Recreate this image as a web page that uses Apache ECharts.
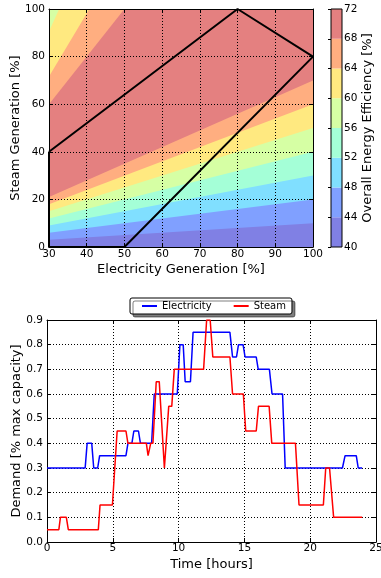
<!DOCTYPE html>
<html>
<head>
<meta charset="utf-8">
<title>CHP efficiency and demand</title>
<script src="https://cdn.jsdelivr.net/npm/echarts@6/dist/echarts.min.js"></script>
<style>body { margin: 0; background: #fff; }</style>
</head>
<body>
<div id="main" style="width:381px;height:578px;"></div>
<script>
// contourf levels of the efficiency map and the colour of each band (jet, alpha 0.5 on white)
var levels = [40, 44, 48, 52, 56, 60, 64, 68, 72];
var bandColors = ['#8080e4', '#80a0ff', '#80dfff', '#a4ffd7', '#d6ffa4', '#ffe980', '#ffae80', '#e48080'];

// contour lines: rising side (steam at E=30 and at E=100)
var risingLevels = [68, 64, 60, 56, 52, 48, 44];
var risingS30 = [21, 18, 15, 12, 9, 6, 3];
var risingS100 = [70, 60, 50, 40, 30, 20, 10];
// falling side, top-left corner (steam at E=30, electricity at S=100)
var fallingLevels = [68, 64, 60];
var fallingS30 = [60, 71.6, 90.5];
var fallingE100 = [50, 40.7, 32.7];

// feasible operating region
var regionE = [30, 80, 100, 50, 30, 30];
var regionS = [40, 100, 80, 0, 0, 40];

// demand profiles (corner points of the curves)
var elecTime = [0, 2.9, 3.05, 3.4, 3.55, 3.85, 4.0, 6.0, 6.15, 6.45, 6.6, 6.95, 7.1, 7.95, 8.15, 9.9, 10.1, 10.35, 10.5,
  10.9, 11.1, 13.9, 14.1, 14.4, 14.55, 14.9, 15.05, 15.9, 16.05, 16.9, 17.1, 17.9, 18.1, 22.45, 22.65, 23.5, 23.65, 23.95];
var elecDemand = [0.3, 0.3, 0.4, 0.4, 0.3, 0.3, 0.35, 0.35, 0.4, 0.4, 0.45, 0.45, 0.4, 0.4, 0.6, 0.6, 0.8, 0.8, 0.65,
  0.65, 0.85, 0.85, 0.75, 0.75, 0.8, 0.8, 0.75, 0.75, 0.7, 0.7, 0.6, 0.6, 0.3, 0.3, 0.35, 0.35, 0.3, 0.3];
var steamTime = [0, 0.9, 1.02, 1.47, 1.62, 3.9, 4.03, 4.97, 5.33, 6.0, 6.15, 7.55, 7.68, 7.74, 7.88, 8.05, 8.3, 8.53, 8.92,
  9.25, 9.48, 9.67, 11.9, 12.13, 12.4, 12.6, 13.9, 14.1, 14.92, 15.1, 15.9, 16.07, 16.88, 17.08, 18.88, 19.15, 21.0,
  21.18, 21.47, 21.78, 23.95];
var steamDemand = [0.05, 0.05, 0.1, 0.1, 0.05, 0.05, 0.15, 0.15, 0.45, 0.45, 0.4, 0.4, 0.35, 0.35, 0.4, 0.4, 0.65, 0.65, 0.3,
  0.55, 0.55, 0.7, 0.7, 0.9, 0.9, 0.75, 0.75, 0.6, 0.6, 0.45, 0.45, 0.55, 0.55, 0.4, 0.4, 0.15, 0.15, 0.3, 0.3,
  0.1, 0.1];

function zip(a, b) {
  return a.map(function (v, i) { return [v, b[i]]; });
}

// band polygons, painted on top of each other
var polys = [{ pts: [[30, 0], [100, 0], [100, 100], [30, 100]], band: 7 }];
risingLevels.forEach(function (lv, i) {
  polys.push({ pts: [[30, 0], [30, risingS30[i]], [100, risingS100[i]], [100, 0]], band: levels.indexOf(lv) - 1 });
});
fallingLevels.forEach(function (lv, i) {
  polys.push({ pts: [[30, fallingS30[i]], [fallingE100[i], 100], [30, 100]], band: levels.indexOf(lv) - 1 });
});

var font = 'DejaVu Sans';
var dotted = { show: true, lineStyle: { color: '#000', width: 1, type: [1, 2] } };
var tick = { show: true, inside: true, length: 4, lineStyle: { color: '#000' } };
var line = { show: true, onZero: false, lineStyle: { color: '#000', width: 1 } };
var lbl = { color: '#000', fontSize: 10.5, fontFamily: font };
var nameStyle = { color: '#000', fontSize: 13, fontFamily: font };

function mirror(grid, pos, min, max, interval) {
  return { type: 'value', gridIndex: grid, position: pos, min: min, max: max, interval: interval, z: 4,
    axisLine: line, axisTick: tick, axisLabel: { show: false }, splitLine: { show: false } };
}

var myChart = echarts.init(document.getElementById('main'));

var option = {
  backgroundColor: '#fff',
  animation: false,
  textStyle: { fontFamily: font },
  grid: [
    { left: 49, top: 9, width: 264, height: 238, outerBoundsMode: 'none' },
    { left: 331, top: 9, width: 11, height: 238, outerBoundsMode: 'none',
      show: true, z: 4, borderColor: '#000', borderWidth: 1, backgroundColor: 'transparent' },
    { left: 47, top: 320, width: 329, height: 222, outerBoundsMode: 'none' }
  ],
  legend: {
    left: 130, top: 298,
    data: [{ name: 'Electricity', icon: 'rect' }, { name: 'Steam', icon: 'rect' }],
    itemWidth: 15, itemHeight: 2, itemGap: 22,
    padding: [3, 6, 3, 12],
    textStyle: { fontSize: 10, color: '#000', fontFamily: font },
    backgroundColor: '#fff', borderColor: '#000', borderWidth: 1, borderRadius: 2,
    shadowColor: 'rgba(0,0,0,0.5)', shadowBlur: 0.1, shadowOffsetX: 3, shadowOffsetY: 3
  },
  xAxis: [
    { type: 'value', gridIndex: 0, position: 'bottom', min: 30, max: 100, interval: 10, z: 4,
      name: 'Electricity Generation [%]', nameLocation: 'middle', nameGap: 16, nameMoveOverlap: false, nameTextStyle: nameStyle,
      axisLine: line, axisTick: tick, axisLabel: Object.assign({ margin: 2 }, lbl), splitLine: dotted },
    mirror(0, 'top', 30, 100, 10),
    { type: 'value', gridIndex: 1, min: 0, max: 1, show: false },
    { type: 'value', gridIndex: 2, position: 'bottom', min: 0, max: 25, interval: 5, z: 4,
      name: 'Time [hours]', nameLocation: 'middle', nameGap: 16, nameMoveOverlap: false, nameTextStyle: nameStyle,
      axisLine: line, axisTick: tick, axisLabel: Object.assign({ margin: 1 }, lbl), splitLine: dotted },
    mirror(2, 'top', 0, 25, 5)
  ],
  yAxis: [
    { type: 'value', gridIndex: 0, position: 'left', min: 0, max: 100, interval: 20, z: 4,
      name: 'Steam Generation [%]', nameLocation: 'middle', nameGap: 27, nameMoveOverlap: false, nameTextStyle: nameStyle,
      axisLine: line, axisTick: tick, axisLabel: Object.assign({ margin: 4 }, lbl), splitLine: dotted },
    mirror(0, 'right', 0, 100, 20),
    { type: 'value', gridIndex: 1, position: 'right', min: 40, max: 72, interval: 4, z: 4,
      name: 'Overall Energy Efficiency [%]', nameLocation: 'middle', nameGap: 19.5, nameMoveOverlap: false, nameTextStyle: nameStyle,
      axisLine: { show: false }, axisTick: { show: true, inside: true, length: 3, lineStyle: { color: '#000' } },
      axisLabel: Object.assign({ margin: 2 }, lbl), splitLine: { show: false } },
    { type: 'value', gridIndex: 2, position: 'left', min: 0, max: 0.9, interval: 0.1, z: 4,
      name: 'Demand [% max capacity]', nameLocation: 'middle', nameGap: 24, nameMoveOverlap: false, nameTextStyle: nameStyle,
      axisLine: line, axisTick: tick, splitLine: dotted,
      axisLabel: Object.assign({ margin: 4, formatter: function (v) { return v.toFixed(1); } }, lbl) },
    mirror(2, 'right', 0, 0.9, 0.1)
  ],
  series: [
    {
      // filled efficiency contours
      type: 'custom', xAxisIndex: 0, yAxisIndex: 0, silent: true, z: 2,
      data: polys.map(function (p, i) { return [p.pts[0][0], p.pts[0][1], i]; }),
      renderItem: function (params, api) {
        var p = polys[api.value(2)];
        return {
          type: 'polygon',
          shape: { points: p.pts.map(function (pt) { return api.coord(pt); }) },
          style: { fill: bandColors[p.band] }
        };
      }
    },
    {
      type: 'line', xAxisIndex: 0, yAxisIndex: 0, z: 6, silent: true,
      data: zip(regionE, regionS), symbol: 'none',
      lineStyle: { color: '#000', width: 2 }
    },
    {
      // colour bar
      type: 'custom', xAxisIndex: 2, yAxisIndex: 2, silent: true, z: 2,
      data: bandColors.map(function (c, i) { return [0, levels[i], i]; }),
      renderItem: function (params, api) {
        var i = api.value(2);
        var p0 = api.coord([0, levels[i + 1]]);
        var p1 = api.coord([1, levels[i]]);
        return {
          type: 'rect',
          shape: { x: p0[0], y: p0[1], width: p1[0] - p0[0], height: p1[1] - p0[1] },
          style: { fill: bandColors[i] }
        };
      }
    },
    {
      name: 'Electricity', type: 'line', xAxisIndex: 3, yAxisIndex: 3, z: 6,
      data: zip(elecTime, elecDemand), symbol: 'none', color: '#0000ff',
      lineStyle: { color: '#0000ff', width: 1.5 }
    },
    {
      name: 'Steam', type: 'line', xAxisIndex: 3, yAxisIndex: 3, z: 6,
      data: zip(steamTime, steamDemand), symbol: 'none', color: '#ff0000',
      lineStyle: { color: '#ff0000', width: 1.5 }
    }
  ]
};

myChart.setOption(option);
</script>
</body>
</html>
